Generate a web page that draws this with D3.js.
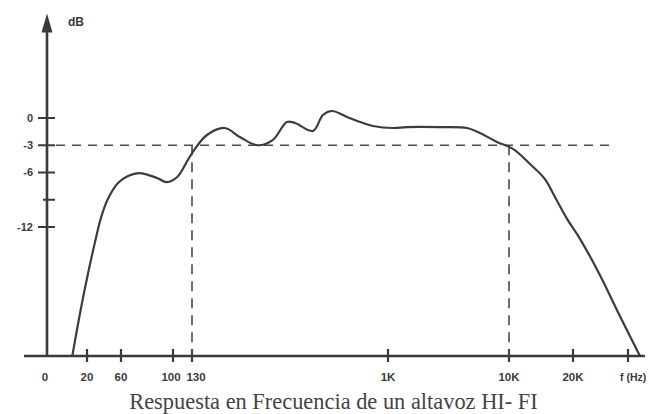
<!DOCTYPE html>
<html>
<head>
<meta charset="utf-8">
<script src="https://cdn.jsdelivr.net/npm/d3@7"></script>
<style>
  html, body { margin: 0; padding: 0; background: #fff; }
  svg { display: block; }
</style>
</head>
<body>
<svg id="chart" width="649" height="414"></svg>
<script>
// ---------- data ----------
const freqHz = [13, 17, 20.7, 25.9, 31.4, 39.4, 54.5, 64.3, 72, 85.5, 94, 106, 123, 134, 152, 183, 214, 258, 302, 349, 380, 458, 508, 558, 653, 747, 855, 1100, 1435, 2690, 4500, 5750, 7960, 10440, 12560, 14760, 16450, 18750, 21840, 28100, 36100, 46500];
const levelDb = [-26.2, -21.1, -17.1, -13.66, -11.0, -8.9, -7.16, -6.39, -6.06, -6.6, -7.05, -6.5, -4.6, -3.4, -1.87, -1.1, -2.1, -3.0, -2.4, -0.44, -0.55, -1.43, 0.33, 0.77, 0.11, -0.44, -0.88, -1.1, -1.0, -1.0, -1.1, -1.65, -2.64, -3.4, -5.07, -6.72, -8.7, -11.1, -13.3, -17.3, -21.8, -26.2];
const xTickValues = [0, 20, 60, 100, 130, 1000, 10000, 20000, 40000];
const xTickLabels = ["0", "20", "60", "100", "130", "1K", "10K", "20K", "f (Hz)"];
const yTickValues = [0, -3, -6, -9, -12];
const yTickLabels = ["0", "-3", "-6", "", "-12"];
const cutoffDb = -3;
const cutoffLowHz = 130;
const cutoffHighHz = 10000;
const dashEndHz = 34000;
const axisEndHz = 49500;
const yAxisTopDb = 11.5;
const yAxisBottomDb = -26.2;
const yAxisLabel = "dB";
const title = "Respuesta en Frecuencia de un altavoz HI- FI";

// ---------- layout ----------
const svg = d3.select("#chart");
const ink = "#3a3a3a";

// Hand-drawn frequency axis: log-spaced between labelled ticks, linear from 0 to 20 Hz
const key = f => f >= 20 ? Math.log10(f) : Math.log10(20) - (20 - f) / 20;
const tickPx = [45, 87, 121, 173, 192, 388, 509, 573, 628];
const xs = d3.scaleLinear().domain(xTickValues.map(key)).range(tickPx);
const x = f => xs(key(f));

const y = d3.scaleLinear().domain([yAxisBottomDb, 0]).range([356, 118]);
const axisX = 47;
const axisY = y(yAxisBottomDb);

// ---------- axes ----------
svg.append("line")
  .attr("x1", 24).attr("x2", x(axisEndHz))
  .attr("y1", axisY).attr("y2", axisY)
  .attr("stroke", ink).attr("stroke-width", 2.6);

svg.append("line")
  .attr("x1", axisX).attr("x2", axisX)
  .attr("y1", axisY).attr("y2", y(yAxisTopDb) + 10)
  .attr("stroke", ink).attr("stroke-width", 2.6);

const tipY = y(yAxisTopDb);
svg.append("path")
  .attr("d", `M${axisX},${tipY} L${axisX - 5.5},${tipY + 19} L${axisX + 5.5},${tipY + 19} Z`)
  .attr("fill", ink);

svg.append("text")
  .attr("x", 68).attr("y", 26)
  .attr("font-family", "Liberation Sans, Arial, sans-serif")
  .attr("font-weight", "bold")
  .attr("font-size", 12)
  .attr("fill", ink)
  .text(yAxisLabel);

// y ticks
const yt = svg.append("g");
yTickValues.forEach((v, i) => {
  yt.append("line")
    .attr("x1", axisX - (yTickLabels[i] === "" ? 4 : 9)).attr("x2", axisX + 8)
    .attr("y1", y(v)).attr("y2", y(v))
    .attr("stroke", ink).attr("stroke-width", 2);
  if (yTickLabels[i] !== "") {
    yt.append("text")
      .attr("x", 33).attr("y", y(v))
      .attr("dy", "0.36em")
      .attr("text-anchor", "end")
      .attr("font-family", "Liberation Sans, Arial, sans-serif")
      .attr("font-weight", "bold")
      .attr("font-size", 11)
      .attr("fill", ink)
      .text(yTickLabels[i]);
  }
});

// x ticks
const xt = svg.append("g");
xTickValues.forEach((v, i) => {
  if (v !== 0) {
    xt.append("line")
      .attr("x1", x(v)).attr("x2", x(v))
      .attr("y1", axisY - 7).attr("y2", axisY + 6)
      .attr("stroke", ink).attr("stroke-width", 2.2);
  }
  const last = i === xTickValues.length - 1;
  let dx = 0;
  if (v === 100) dx = -2;
  if (v === 130) dx = 4;
  xt.append("text")
    .attr("x", last ? x(v) - 8 : x(v) + dx)
    .attr("y", 381)
    .attr("text-anchor", last ? "start" : "middle")
    .attr("font-family", "Liberation Sans, Arial, sans-serif")
    .attr("font-weight", "bold")
    .attr("font-size", last ? 10.5 : 11.5)
    .attr("fill", ink)
    .text(xTickLabels[i]);
});

// ---------- dashed -3 dB guides ----------
svg.append("line")
  .attr("x1", axisX + 9).attr("x2", x(dashEndHz))
  .attr("y1", y(cutoffDb)).attr("y2", y(cutoffDb))
  .attr("stroke", "#4a4a4a").attr("stroke-width", 1.6)
  .attr("stroke-dasharray", "9,7");
[cutoffLowHz, cutoffHighHz].forEach(f => {
  svg.append("line")
    .attr("x1", x(f)).attr("x2", x(f))
    .attr("y1", y(cutoffDb)).attr("y2", axisY)
    .attr("stroke", "#4a4a4a").attr("stroke-width", 1.6)
    .attr("stroke-dasharray", "10,7");
});

// ---------- response curve ----------
const pts = freqHz.map((f, i) => [f, levelDb[i]]);
const line = d3.line()
  .x(d => x(d[0]))
  .y(d => y(d[1]))
  .curve(d3.curveCatmullRom.alpha(0.5));
svg.append("path")
  .datum(pts)
  .attr("d", line)
  .attr("fill", "none")
  .attr("stroke", "#3c3c3c")
  .attr("stroke-width", 2.2)
  .attr("stroke-linejoin", "round");

// ---------- caption ----------
svg.append("text")
  .attr("x", 333.5).attr("y", 409)
  .attr("text-anchor", "middle")
  .attr("font-family", "Liberation Serif, Times New Roman, serif")
  .attr("font-size", 22.4)
  .attr("fill", "#444")
  .text(title);
</script>
</body>
</html>
